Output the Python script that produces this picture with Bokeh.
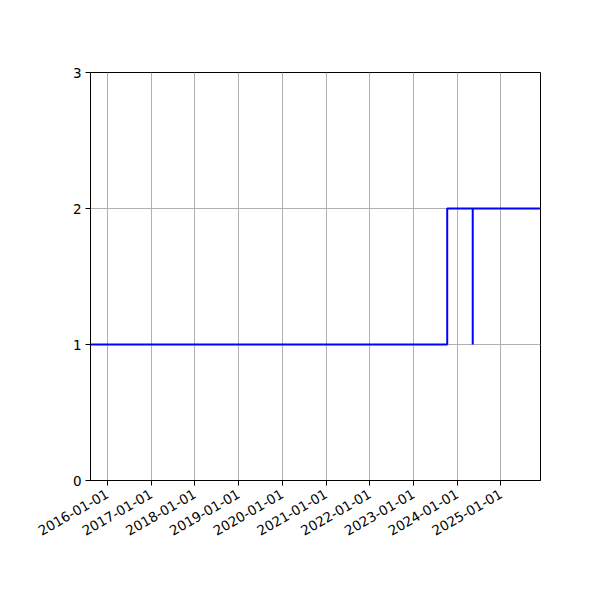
import math
from datetime import datetime
from bokeh.plotting import figure
from bokeh.models import Range1d, FixedTicker, DatetimeTickFormatter
from bokeh.embed import file_html
from bokeh.resources import INLINE

# Data
dates = ["2015-08-14", "2023-10-10", "2024-05-10", "2024-05-10", "2025-11-27"]
values = [1, 2, 1, 2, 2]
x_tick_labels = ["2016-01-01", "2017-01-01", "2018-01-01", "2019-01-01", "2020-01-01",
                 "2021-01-01", "2022-01-01", "2023-01-01", "2024-01-01", "2025-01-01"]
y_ticks = [0, 1, 2, 3]

xs = [datetime.fromisoformat(d) for d in dates]

def ms(d):
    return datetime.fromisoformat(d).timestamp() * 1000.0

p = figure(width=592, height=592, x_axis_type="datetime",
           output_backend="svg", toolbar_location=None,
           x_range=Range1d(xs[0], xs[-1]), y_range=Range1d(0, 3),
           min_border_left=90, min_border_right=52, min_border_top=72, min_border_bottom=112)
p.frame_width = 450
p.frame_height = 408

p.step(xs, values, mode="after", line_color="#0000ff", line_width=2)

p.xaxis.ticker = FixedTicker(ticks=[ms(t) for t in x_tick_labels])
fmt = "%Y-%m-%d"
p.xaxis.formatter = DatetimeTickFormatter(milliseconds=fmt, seconds=fmt, minsec=fmt, minutes=fmt,
                                          hourmin=fmt, hours=fmt, days=fmt, months=fmt, years=fmt)
p.xaxis.major_label_orientation = math.pi / 6
p.yaxis.ticker = FixedTicker(ticks=y_ticks)

for ax in (p.xaxis, p.yaxis):
    ax.major_label_text_font = "DejaVu Sans"
    ax.major_label_text_font_size = "13.5px"
    ax.major_label_text_color = "black"
    ax.axis_line_color = "black"
    ax.axis_line_width = 1
    ax.major_tick_line_color = "black"
    ax.major_tick_in = 0
    ax.major_tick_out = 5
    ax.minor_tick_line_color = None
    ax.major_label_standoff = 4
p.xaxis.major_label_standoff = 7

p.grid.grid_line_color = "#b0b0b0"
p.grid.grid_line_width = 1
p.outline_line_color = "black"
p.outline_line_width = 1
p.outline_line_alpha = 1
p.background_fill_color = "white"
p.border_fill_color = "white"

open("out.html", "w").write(file_html(p, INLINE))
